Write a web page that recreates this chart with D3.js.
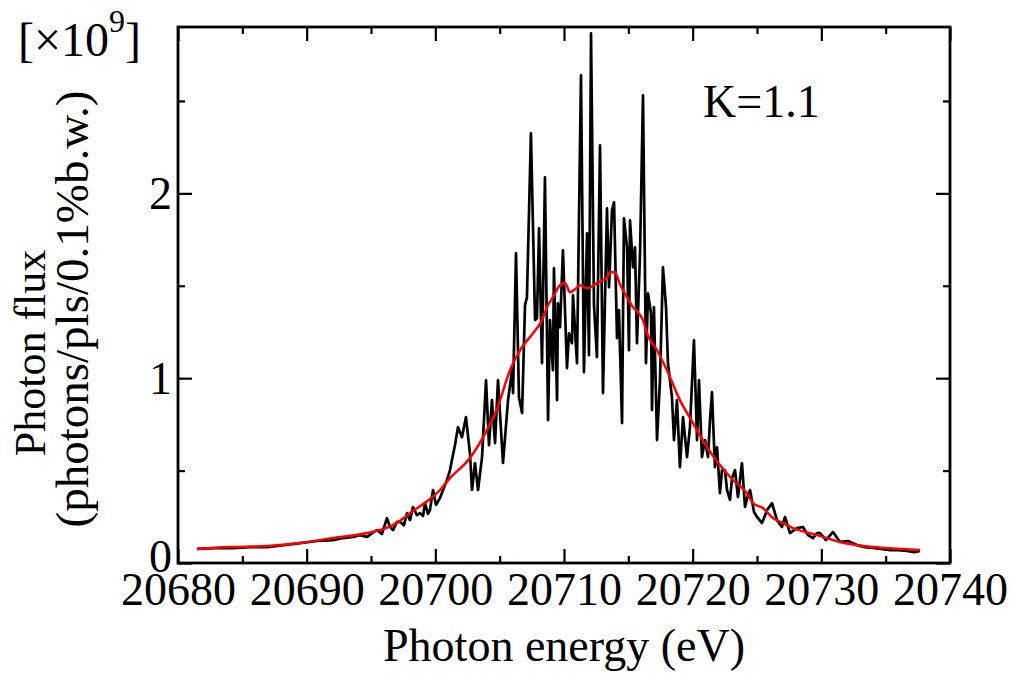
<!DOCTYPE html>
<html>
<head>
<meta charset="utf-8">
<script src="https://cdn.jsdelivr.net/npm/d3@7"></script>
<style>
  html, body { margin: 0; padding: 0; background: #fff; }
  svg { display: block; }
  text { font-family: "Liberation Serif", "Times New Roman", serif; fill: #000; }
</style>
</head>
<body>
<svg id="chart" width="1013" height="673"></svg>
<script>
// ---- data (photon energy in eV, photon flux in units of 1e9) ----
const rawEnergy = [
  20681.48, 20682.88, 20684.27, 20685.60, 20686.92, 20688.24, 20689.48, 20690.80, 20692.05, 20692.82,
  20693.60, 20694.15, 20694.69, 20695.08, 20695.47, 20695.85, 20696.24, 20696.48, 20696.71, 20697.02,
  20697.25, 20697.56, 20697.80, 20698.03, 20698.26, 20698.57, 20698.81, 20699.04, 20699.20, 20699.43,
  20699.58, 20699.82, 20700.05, 20700.36, 20700.60, 20700.91, 20701.14, 20701.29, 20701.53, 20701.76,
  20702.07, 20702.38, 20702.69, 20702.85, 20703.08, 20703.32, 20703.63, 20703.94, 20704.17, 20704.40,
  20704.64, 20704.87, 20705.26, 20705.65, 20705.96, 20706.04, 20706.27, 20706.50, 20706.74, 20706.97,
  20707.12, 20707.43, 20707.75, 20707.90, 20708.06, 20708.29, 20708.52, 20708.76, 20708.91, 20709.14,
  20709.22, 20709.46, 20709.53, 20709.69, 20709.92, 20710.23, 20710.39, 20710.62, 20710.70, 20711.01,
  20711.32, 20711.55, 20711.79, 20711.94, 20712.10, 20712.33, 20712.56, 20712.80, 20713.03, 20713.34,
  20713.50, 20713.73, 20713.89, 20714.12, 20714.27, 20714.51, 20714.66, 20714.90, 20715.05, 20715.13,
  20715.36, 20715.52, 20715.67, 20715.91, 20716.14, 20716.37, 20716.53, 20716.76, 20716.84, 20716.99,
  20717.23, 20717.46, 20717.69, 20717.93, 20718.08, 20718.39, 20718.55, 20718.78, 20719.01, 20719.25,
  20719.56, 20719.79, 20720.10, 20720.34, 20720.49, 20720.72, 20720.96, 20721.19, 20721.35, 20721.50,
  20721.73, 20721.89, 20722.12, 20722.28, 20722.51, 20722.67, 20722.90, 20723.06, 20723.29, 20723.52,
  20723.83, 20724.07, 20724.30, 20724.46, 20724.77, 20725.00, 20725.39, 20725.78, 20726.17, 20726.55,
  20726.94, 20727.18, 20727.56, 20728.11, 20728.57, 20728.96, 20729.35, 20729.66, 20729.90, 20730.36,
  20730.91, 20731.45, 20732.07, 20732.77, 20733.39, 20734.01, 20734.64, 20735.34, 20735.96, 20736.66,
  20737.20, 20737.67
];
const rawFlux = [
  0.076, 0.081, 0.081, 0.086, 0.086, 0.097, 0.108, 0.119, 0.124, 0.135,
  0.141, 0.151, 0.141, 0.162, 0.178, 0.157, 0.243, 0.195, 0.178, 0.222,
  0.222, 0.205, 0.270, 0.232, 0.303, 0.259, 0.270, 0.254, 0.324, 0.265,
  0.286, 0.395, 0.314, 0.351, 0.395, 0.449, 0.503, 0.557, 0.638, 0.735,
  0.681, 0.789, 0.595, 0.395, 0.541, 0.395, 0.573, 0.989, 0.638, 0.881,
  0.649, 0.989, 0.541, 0.881, 1.043, 0.919, 1.676, 0.897, 0.811, 1.395,
  1.438, 2.324, 1.314, 1.324, 1.811, 1.081, 2.086, 0.773, 1.314, 1.043,
  1.595, 0.881, 1.405, 1.276, 1.692, 1.054, 1.243, 1.189, 1.449, 1.081,
  2.638, 1.032, 1.784, 1.124, 2.865, 1.395, 1.114, 2.259, 0.919, 1.919,
  1.492, 1.908, 1.951, 1.216, 1.368, 0.757, 1.865, 1.708, 1.151, 1.854,
  1.600, 1.708, 1.189, 1.676, 2.530, 1.081, 1.459, 1.351, 0.827, 1.384,
  0.665, 0.989, 1.600, 1.384, 1.081, 0.897, 0.665, 0.881, 0.519, 0.789,
  0.573, 0.735, 1.205, 0.665, 0.989, 0.573, 0.665, 0.573, 0.773, 0.924,
  0.519, 0.627, 0.378, 0.503, 0.503, 0.395, 0.341, 0.459, 0.503, 0.357,
  0.541, 0.303, 0.368, 0.395, 0.276, 0.249, 0.216, 0.286, 0.324, 0.232,
  0.195, 0.249, 0.162, 0.189, 0.195, 0.151, 0.135, 0.162, 0.162, 0.124,
  0.168, 0.114, 0.119, 0.097, 0.086, 0.081, 0.076, 0.070, 0.070, 0.065,
  0.059, 0.065
];
const smoothEnergy = [
  20681.48, 20684.04, 20686.92, 20689.48, 20692.05, 20694.69, 20696.71, 20698.26, 20699.58, 20700.36,
  20701.14, 20702.69, 20704.01, 20704.79, 20705.80, 20706.58, 20707.59, 20708.29, 20708.68, 20709.14,
  20709.69, 20710.08, 20710.47, 20710.85, 20711.24, 20711.79, 20712.18, 20712.56, 20713.03, 20713.34,
  20713.57, 20713.96, 20714.35, 20714.90, 20715.36, 20715.67, 20716.14, 20716.45, 20717.23, 20718.00,
  20719.01, 20720.03, 20721.11, 20722.12, 20723.13, 20724.22, 20724.69, 20725.47, 20726.24, 20727.02,
  20727.80, 20728.73, 20729.66, 20731.45, 20734.01, 20736.11, 20737.67
];
const smoothFlux = [
  0.076, 0.086, 0.092, 0.108, 0.135, 0.162, 0.205, 0.281, 0.346, 0.395,
  0.459, 0.568, 0.719, 0.832, 1.043, 1.151, 1.243, 1.314, 1.384, 1.438,
  1.503, 1.514, 1.465, 1.481, 1.503, 1.486, 1.497, 1.514, 1.530, 1.541,
  1.573, 1.573, 1.508, 1.438, 1.384, 1.362, 1.314, 1.243, 1.151, 1.043,
  0.881, 0.757, 0.627, 0.530, 0.449, 0.378, 0.324, 0.297, 0.243, 0.216,
  0.189, 0.168, 0.151, 0.114, 0.086, 0.076, 0.070
];
const xMajorTicks = [20680, 20690, 20700, 20710, 20720, 20730, 20740];
const xMinorTicks = [20685, 20695, 20705, 20715, 20725, 20735];
const yMajorTicks = [0, 1, 2];
const yMinorTicks = [0.5, 1.5, 2.5];
const xTitle = "Photon energy (eV)";
const yTitle1 = "Photon flux";
const yTitle2 = "(photons/pls/0.1%b.w.)";
const annotation = "K=1.1";

// ---- layout ----
const margin = { left: 178, right: 63, top: 27, bottom: 110 };
const W = 1013, H = 673;
const plotW = W - margin.left - margin.right;   // 772
const plotH = H - margin.top - margin.bottom;   // 536

const svg = d3.select("#chart");
const g = svg.append("g").attr("transform", `translate(${margin.left},${margin.top})`);

const x = d3.scaleLinear().domain([20680, 20740]).range([0, plotW]);
const y = d3.scaleLinear().domain([0, 2.9]).range([plotH, 0]);

const FS = 46;
function styleAxis(sel) {
  sel.attr("font-family", null).attr("font-size", null);
  sel.select(".domain").remove();
  sel.selectAll(".tick line").attr("stroke", "#000").attr("stroke-width", 2.2);
}

// bottom axis (labels + major ticks, inward)
const bx = g.append("g").attr("transform", `translate(0,${plotH})`)
  .call(d3.axisBottom(x).tickValues(xMajorTicks).tickSize(-14).tickFormat(d3.format("d")));
styleAxis(bx);
bx.selectAll("text").attr("y", 42).attr("dy", 0).style("font-size", FS + "px");
g.append("g").attr("transform", `translate(0,${plotH})`)
  .call(d3.axisBottom(x).tickValues(xMinorTicks).tickSize(-7).tickFormat(""))
  .call(styleAxis);
// top axis
g.append("g").call(d3.axisTop(x).tickValues(xMajorTicks).tickSize(-14).tickFormat("")).call(styleAxis);
g.append("g").call(d3.axisTop(x).tickValues(xMinorTicks).tickSize(-7).tickFormat("")).call(styleAxis);
// left axis
const ly = g.append("g")
  .call(d3.axisLeft(y).tickValues(yMajorTicks).tickSize(-14).tickFormat(d3.format("d")));
styleAxis(ly);
ly.selectAll("text").attr("x", -6).attr("dy", "0.34em").style("font-size", FS + "px");
ly.selectAll(".tick").filter(d => d === 0).select("text").attr("dy", "0.18em");
g.append("g").call(d3.axisLeft(y).tickValues(yMinorTicks).tickSize(-7).tickFormat("")).call(styleAxis);
// right axis
g.append("g").attr("transform", `translate(${plotW},0)`)
  .call(d3.axisRight(y).tickValues(yMajorTicks).tickSize(-14).tickFormat("")).call(styleAxis);
g.append("g").attr("transform", `translate(${plotW},0)`)
  .call(d3.axisRight(y).tickValues(yMinorTicks).tickSize(-7).tickFormat("")).call(styleAxis);

// data lines
const rawData = rawEnergy.map((e, i) => [e, rawFlux[i]]);
const smoothData = smoothEnergy.map((e, i) => [e, smoothFlux[i]]);
const line = d3.line().x(d => x(d[0])).y(d => y(d[1]));

g.append("path").datum(rawData).attr("d", line)
  .attr("fill", "none").attr("stroke", "#000").attr("stroke-width", 2.7).attr("stroke-linejoin", "round");
g.append("path").datum(smoothData).attr("d", d3.line().x(d => x(d[0])).y(d => y(d[1])).curve(d3.curveMonotoneX))
  .attr("fill", "none").attr("stroke", "#ff0000").attr("stroke-width", 2.5).attr("stroke-linejoin", "round");

// frame
g.append("rect").attr("x", 0).attr("y", 0).attr("width", plotW).attr("height", plotH)
  .attr("fill", "none").attr("stroke", "#000").attr("stroke-width", 2.8);

// annotation
svg.append("text").attr("x", 703).attr("y", 117).style("font-size", FS + "px").text(annotation);

// multiplier label
const mult = svg.append("text").attr("x", 18).attr("y", 56).style("font-size", "48px");
mult.append("tspan").text("[×10");
mult.append("tspan").attr("dy", -24).style("font-size", "32px").text("9");
mult.append("tspan").attr("dy", 24).text("]");

// axis titles
svg.append("text").attr("x", margin.left + plotW / 2).attr("y", 661)
  .attr("text-anchor", "middle").style("font-size", FS + "px").text(xTitle);
svg.append("text").attr("transform", "translate(45,353) rotate(-90)")
  .attr("text-anchor", "middle").style("font-size", "44px").text(yTitle1);
svg.append("text").attr("transform", "translate(88,309) rotate(-90)")
  .attr("text-anchor", "middle").style("font-size", "47px").text(yTitle2);
</script>
</body>
</html>
